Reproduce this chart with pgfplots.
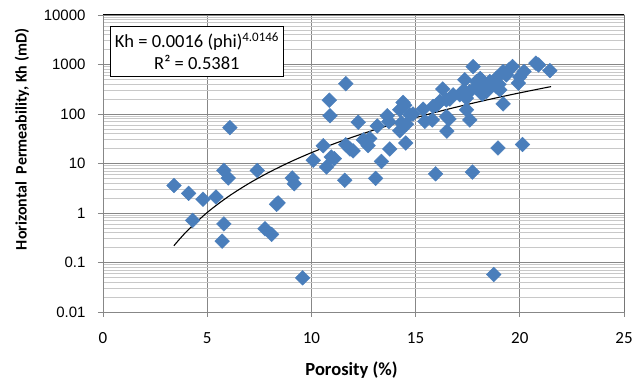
\documentclass[border=0pt]{standalone}
\usepackage{fontspec}
\setmainfont{Carlito}
\newfontfamily\arialf{Liberation Sans}
\usepackage{pgfplots}
\pgfplotsset{compat=1.18}
\definecolor{mk}{HTML}{4A7EBB}
\definecolor{majg}{HTML}{878787}
\definecolor{ming}{HTML}{C8C8C8}
\begin{document}
\begin{tikzpicture}
\begin{axis}[
 scale only axis, width=521bp, height=297bp,
 xmin=0, xmax=25, ymode=log, ymin=0.01, ymax=10000,
 xtick={0,5,10,15,20,25},
 xticklabels={0,5,10,15,20,25},
 ytick={0.01,0.1,1,10,100,1000,10000},
 yticklabels={0.01,0.1,1,10,100,1000,10000},
 minor ytick={0.02,0.03,0.04,0.05,0.06,0.07,0.08,0.09,0.2,0.3,0.4,0.5,0.6,0.7,0.8,0.9,2,3,4,5,6,7,8,9,20,30,40,50,60,70,80,90,200,300,400,500,600,700,800,900,2000,3000,4000,5000,6000,7000,8000,9000},
 xmajorgrids, ymajorgrids, yminorgrids,
 major grid style={majg, line width=0.8bp},
 minor grid style={ming, line width=0.8bp},
 axis line style={draw=none},
 tick align=outside, xtick pos=bottom, ytick pos=left,
 major tick length=5bp, minor tick length=0pt,
 tick style={majg, line width=0.8bp},
 xticklabel style={font=\fontsize{17bp}{19bp}\selectfont, yshift=-12bp},
 yticklabel style={font=\arialf\fontsize{15bp}{17bp}\selectfont, xshift=-9bp},
 xlabel={\textbf{Porosity (\%)}},
 ylabel={\textbf{Horizontal\ \ Permeability, Kh (mD)}},
 xlabel style={at={(axis description cs:0.5,0)}, anchor=center, yshift=-58bp, xshift=-12bp, font=\fontsize{18.5bp}{20bp}\selectfont},
 ylabel style={at={(axis description cs:0,0.5)}, anchor=center, yshift=81bp, xshift=24bp, font=\fontsize{16bp}{18bp}\selectfont},
]
\addplot[only marks, mark=square*, mark size=5.2bp, mark options={rotate=45, fill=mk, draw=mk}] table {
x y
3.41 3.6
4.11 2.5
4.30 0.71
4.80 1.9
5.42 2.1
5.72 0.27
5.80 0.60
5.80 7.3
6.01 5.1
6.09 53
7.40 7.2
7.77 0.48
8.09 0.37
8.33 1.5
8.40 1.6
9.08 5.1
9.18 3.9
9.58 0.049
10.09 11.6
10.57 22.9
10.73 8.5
10.86 190
10.89 92
10.95 13.5
11.10 12.5
11.60 4.6
11.65 410
11.65 24
11.85 19.6
12.00 18
12.25 68
12.49 30
12.72 23
12.80 32
13.08 5
13.16 57
13.36 11
13.64 92
13.72 70
13.76 19.6
14.24 122
14.24 46
14.32 66
14.40 171
14.48 150
14.53 26
14.56 62
14.72 96
14.88 100
15.36 125
15.44 71
15.80 76
15.84 142
15.96 6.2
16.00 150
16.16 179
16.30 320
16.48 193
16.48 89
16.50 45
16.60 79
16.64 200
16.80 244
17.12 244
17.30 300
17.36 490
17.44 209
17.44 122
17.60 284
17.60 76
17.73 6.7
17.76 907
17.90 350
17.92 452
18.08 333
18.10 520
18.20 250
18.24 420
18.40 284
18.56 452
18.60 380
18.75 0.057
18.88 358
18.88 530
18.95 20.6
19.00 400
19.04 308
19.20 160
19.20 720
19.36 617
19.50 800
19.65 907
19.93 420
20.00 560
20.13 24.3
20.20 720
20.77 1062
20.90 980
21.44 753
};
\addplot[black, line width=1.1bp, smooth, mark=none] table {
x y
3.4 0.2176
4 0.418
5 1.024
6 2.129
7 3.952
8 6.755
9 10.84
10 16.55
11 24.26
12 34.40
13 47.44
14 63.88
15 84.26
16 109.2
17 139.3
18 175.2
19 217.7
20 267.4
21 325.3
21.5 357.5
};
\draw[majg, line width=0.8bp] (rel axis cs:0,1) -- (rel axis cs:0,0) -- (rel axis cs:1,0);
\draw[black, line width=1bp] (rel axis cs:0,1) -- (rel axis cs:1,1) -- (rel axis cs:1,0);
\node[draw=black, line width=0.9bp, fill=white, anchor=north west, minimum width=173bp, minimum height=50bp, align=center, inner sep=2bp, font=\fontsize{18.5bp}{22bp}\selectfont] at (rel axis cs:0.0134,0.963) {Kh = 0.0016 (phi)\textsuperscript{4.0146}\\R² = 0.5381};
\coordinate (SW) at (rel axis cs:0,0);
\end{axis}
\pgfresetboundingbox
\path (SW) ++(-103bp,-75bp) rectangle ++(644bp,387bp);
\end{tikzpicture}
\end{document}
